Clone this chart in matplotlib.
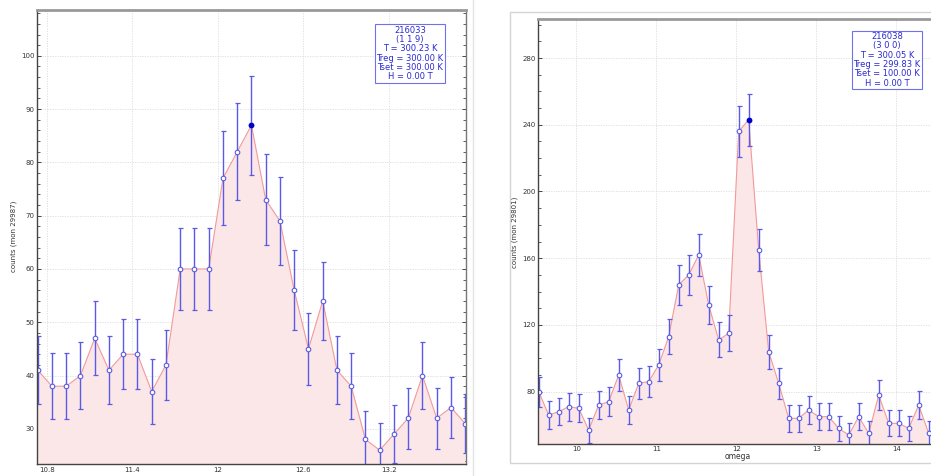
import matplotlib
matplotlib.use("Agg")
import matplotlib.pyplot as plt
from matplotlib.ticker import MultipleLocator, FixedLocator
from matplotlib.patches import Rectangle
from matplotlib.lines import Line2D

# ---------------- data: left scan (216033, (1 1 9)) ----------------
left_omega = [10.735, 10.835, 10.935, 11.035, 11.135, 11.235, 11.335, 11.435,
              11.535, 11.635, 11.735, 11.835, 11.935, 12.035, 12.135, 12.235,
              12.335, 12.435, 12.535, 12.635, 12.735, 12.835, 12.935, 13.035,
              13.135, 13.235, 13.335, 13.435, 13.535, 13.635, 13.735]
left_counts = [41, 38, 38, 40, 47, 41, 44, 44, 37, 42, 60, 60, 60, 77, 82, 87,
               73, 69, 56, 45, 54, 41, 38, 28, 26, 29, 32, 40, 32, 34, 31]
left_err = [6.4, 6.2, 6.2, 6.3, 6.9, 6.4, 6.6, 6.6, 6.1, 6.5, 7.7, 7.7, 7.7,
            8.8, 9.1, 9.3, 8.5, 8.3, 7.5, 6.7, 7.3, 6.4, 6.2, 5.3, 5.1, 5.4,
            5.7, 6.3, 5.7, 5.8, 5.6]
left_xticks = [10.8, 11.4, 12.0, 12.6, 13.2]
left_xticklabels = ["10.8", "11.4", "12", "12.6", "13.2"]
left_yticks = [30, 40, 50, 60, 70, 80, 90, 100]
left_ylabel = "counts (mon 29987)"
left_info = "216033\n(1 1 9)\nT = 300.23 K\nTreg = 300.00 K\nTset = 300.00 K\nH = 0.00 T"

# ---------------- data: right scan (216038, (3 0 0)) ----------------
right_omega = [9.530, 9.655, 9.780, 9.905, 10.030, 10.155, 10.280, 10.405,
               10.530, 10.655, 10.780, 10.905, 11.030, 11.155, 11.280, 11.405,
               11.530, 11.655, 11.780, 11.905, 12.030, 12.155, 12.280, 12.405,
               12.530, 12.655, 12.780, 12.905, 13.030, 13.155, 13.280, 13.405,
               13.530, 13.655, 13.780, 13.905, 14.030, 14.155, 14.280, 14.405]
right_counts = [80, 66, 68, 71, 70, 57, 72, 74, 90, 69, 85, 86, 96, 113, 144,
                150, 162, 132, 111, 115, 236, 243, 165, 104, 85, 64, 64, 69,
                65, 65, 58, 54, 65, 55, 78, 61, 61, 58, 72, 55]
right_err = [8.9, 8.1, 8.2, 8.4, 8.4, 7.5, 8.5, 8.6, 9.5, 8.3, 9.2, 9.3, 9.8,
             10.6, 12.0, 12.2, 12.7, 11.5, 10.5, 10.7, 15.4, 15.6, 12.8, 10.2,
             9.2, 8.0, 8.0, 8.3, 8.1, 8.1, 7.6, 7.3, 8.1, 7.4, 8.8, 7.8, 7.8,
             7.6, 8.5, 7.4]
right_xticks = [10, 11, 12, 13, 14]
right_xticklabels = ["10", "11", "12", "13", "14"]
right_yticks = [80, 120, 160, 200, 240, 280]
right_ylabel = "counts (mon 29801)"
right_xlabel = "omega"
right_info = "216038\n(3 0 0)\nT = 300.05 K\nTreg = 299.83 K\nTset = 100.00 K\nH = 0.00 T"

# ---------------- styling ----------------
W, H = 931, 476
DPI = 100
fig = plt.figure(figsize=(W / DPI, H / DPI), dpi=DPI)
fig.patch.set_facecolor("white")

FILL = "#fbe7e7"
LINE = "#f29a9a"
BLUE = "#5a5ae6"
TXTBLUE = "#2a2ad0"
TICKC = "#444444"


def px_rect(x0, y0, x1, y1):
    return [x0 / W, 1 - y1 / H, (x1 - x0) / W, (y1 - y0) / H]


def draw_panel(ax, x, y, e, xlim, ylim, xticks, xtl, yticks, xminor, yminor):
    ax.set_xlim(*xlim)
    ax.set_ylim(*ylim)
    ax.fill_between(x, y, ylim[0] - 100, color=FILL, lw=0, zorder=1)
    ax.plot(x, y, color=LINE, lw=0.8, zorder=2)
    ax.errorbar(x, y, yerr=e, fmt="none", ecolor=BLUE, elinewidth=1.0,
                capsize=1.8, capthick=0.9, zorder=3)
    ax.plot(x, y, ls="none", marker="o", ms=3.3, mfc="white", mec=BLUE,
            mew=0.8, zorder=4)
    imax = max(range(len(y)), key=lambda i: y[i])
    ax.plot([x[imax]], [y[imax]], ls="none", marker="o", ms=3.0,
            mfc="#0000cc", mec="#0000cc", zorder=5)
    ax.xaxis.set_major_locator(FixedLocator(xticks))
    ax.set_xticklabels(xtl)
    ax.yaxis.set_major_locator(FixedLocator(yticks))
    ax.set_yticklabels([str(v) for v in yticks])
    ax.xaxis.set_minor_locator(MultipleLocator(xminor))
    ax.yaxis.set_minor_locator(MultipleLocator(yminor))
    ax.tick_params(which="both", direction="in", colors=TICKC, labelsize=5,
                   labelcolor="#333333", top=False, right=True, pad=2)
    ax.tick_params(which="major", length=3, width=0.7)
    ax.tick_params(which="minor", length=2, width=0.6)
    ax.grid(True, which="major", color="#dcdcdc", ls=(0, (1.5, 1.5)), lw=0.6)
    ax.set_axisbelow(True)
    for s in ("left", "bottom"):
        ax.spines[s].set_color("#444444")
        ax.spines[s].set_linewidth(1.0)
    ax.spines["right"].set_color("#777777")
    ax.spines["right"].set_linewidth(1.0)
    ax.spines["top"].set_color("#999999")
    ax.spines["top"].set_linewidth(2.0)
    for sp in ax.spines.values():
        sp.set_zorder(6)


# left panel
axL = fig.add_axes(px_rect(37, 10, 465.5, 464))
draw_panel(axL, left_omega, left_counts, left_err, (10.73, 13.737),
           (23.4, 108.6), left_xticks, left_xticklabels, left_yticks, 0.2, 2)
fig.text(14 / W, 1 - 236 / H, left_ylabel, rotation=90, ha="center",
         va="center", fontsize=5, color="#333333")
fig.text(410 / W, 1 - 53.5 / H, left_info, ha="center", va="center",
         fontsize=6, color=TXTBLUE, linespacing=1.05,
         bbox=dict(boxstyle="square,pad=0.15", fc="white", ec="#7070ee",
                   lw=0.8))

# separator line and right outer frame
fig.add_artist(Line2D([473 / W, 473 / W], [0, 1], color="#e4e4e4", lw=1.0))
fig.add_artist(Rectangle((509.7 / W, 1 - 462.7 / H), (940 - 509.7) / W,
                         (462.7 - 11.7) / H, fill=False, ec="#d4d4d4", lw=1.0))

# right panel
axR = fig.add_axes(px_rect(538.3, 19, 936.3, 443.7))
draw_panel(axR, right_omega, right_counts, right_err, (9.525, 14.5),
           (48.8, 303.4), right_xticks, right_xticklabels, right_yticks,
           0.25, 10)
fig.text(515 / W, 1 - 232 / H, right_ylabel, rotation=90, ha="center",
         va="center", fontsize=5, color="#333333")
fig.text(738 / W, 1 - 456.5 / H, right_xlabel, ha="center", va="center",
         fontsize=5.5, color="#333333")
fig.text(887 / W, 1 - 59.8 / H, right_info, ha="center", va="center",
         fontsize=6, color=TXTBLUE, linespacing=1.05,
         bbox=dict(boxstyle="square,pad=0.15", fc="white", ec="#7070ee",
                   lw=0.8))

fig.savefig("out.png", dpi=DPI, facecolor="white")
